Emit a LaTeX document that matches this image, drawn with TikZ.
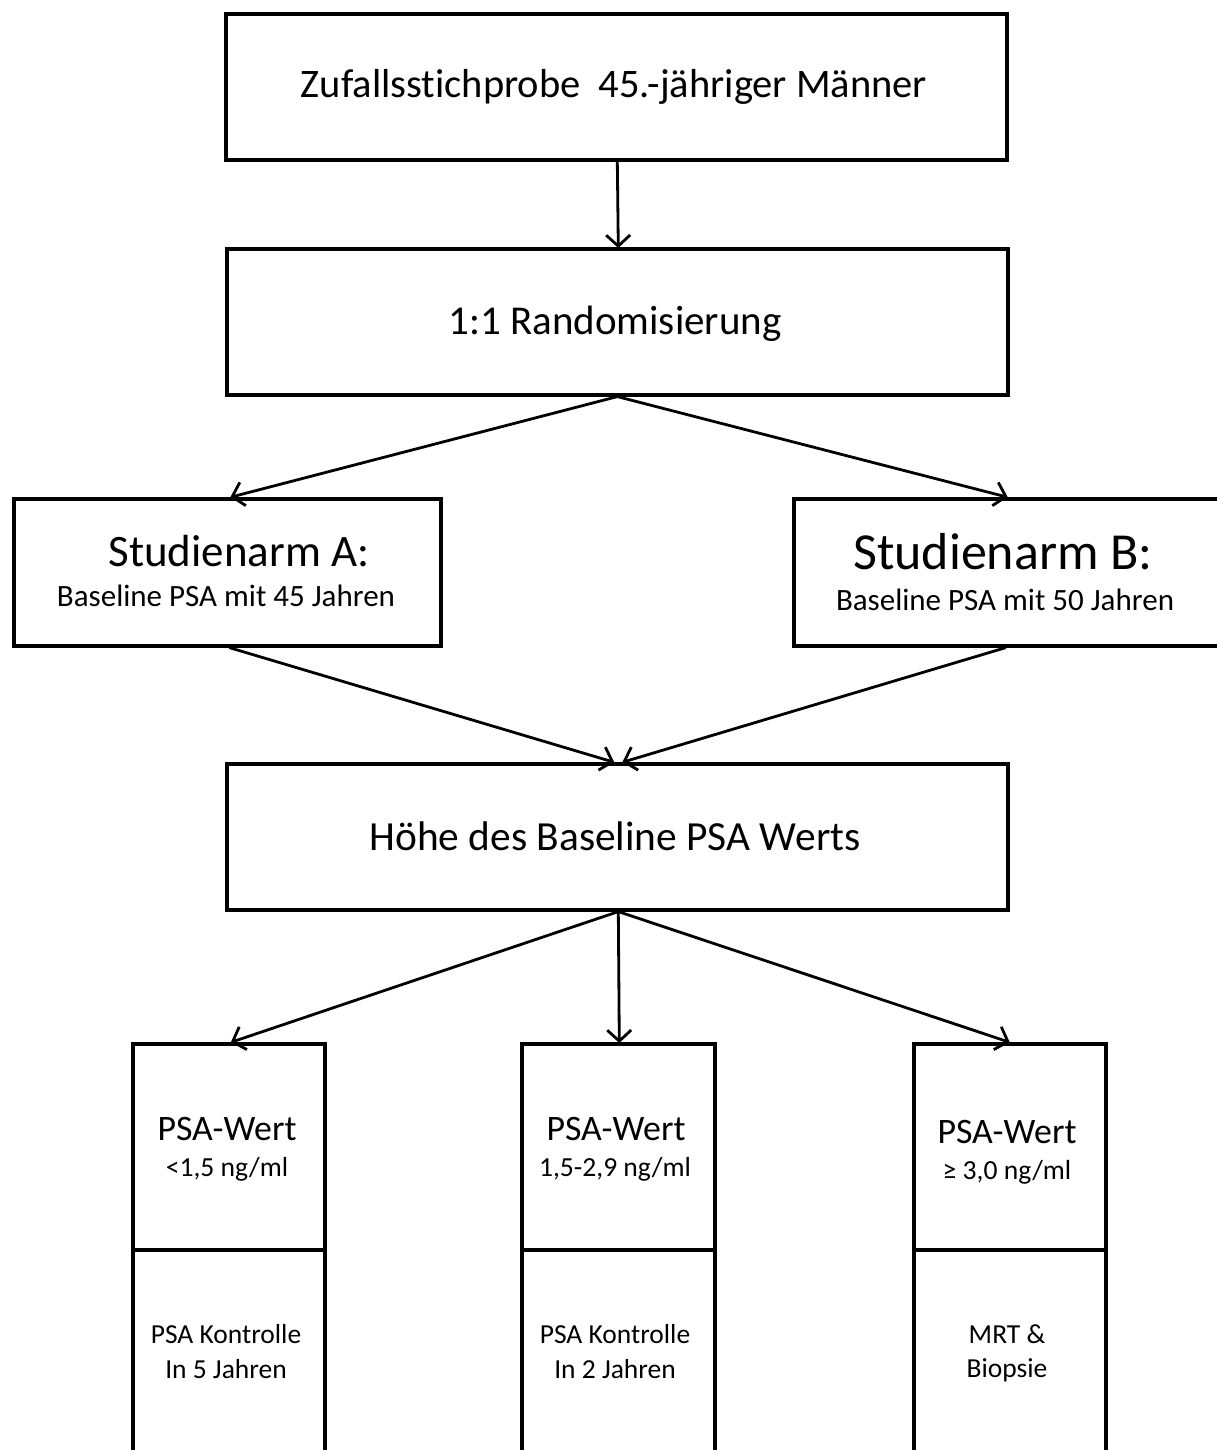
\documentclass[tikz,border=0pt]{standalone}
\usepackage{fontspec}
\setmainfont{Carlito}[Ligatures={NoCommon}]
\usetikzlibrary{arrows.meta}
\newcommand{\fs}[1]{\fontsize{#1}{#1}\selectfont}
\begin{document}
\begin{tikzpicture}[x=1pt,y=-1pt,
  box/.style={draw,line width=3.6pt,rectangle,inner sep=0pt,anchor=north west},
  txt/.style={anchor=base,inner sep=0pt},
  conn/.style={line width=2.8pt,-{Straight Barb[length=11pt,width=24pt,line width=2.8pt]},shorten >=-1pt}]
\useasboundingbox (0,0) rectangle (1217,1450);
\clip (0,0) rectangle (1217,1450);
% boxes
\node[box,minimum width=781pt,minimum height=146pt] (z) at (224,12) {};
\node[box,minimum width=781pt,minimum height=146pt] (r) at (225,247) {};
\node[box,minimum width=427pt,minimum height=147pt] (a) at (12,497) {};
\node[box,minimum width=430pt,minimum height=147pt] (b) at (792,497) {};
\node[box,minimum width=781pt,minimum height=146pt] (h) at (225,762) {};
\node[box,minimum width=192pt,minimum height=206pt] (l1) at (131,1042) {};
\node[box,minimum width=192pt,minimum height=215pt] (l2) at (131,1248) {};
\node[box,minimum width=193pt,minimum height=206pt] (m1) at (520,1042) {};
\node[box,minimum width=193pt,minimum height=215pt] (m2) at (520,1248) {};
\node[box,minimum width=192pt,minimum height=206pt] (q1) at (912,1042) {};
\node[box,minimum width=192pt,minimum height=215pt] (q2) at (912,1248) {};
% texts
\node[txt] (tz) at (614,98) {\fs{40.5}Zufallsstichprobe\ \ 45.-jähriger Männer};
\node[txt] (tr) at (615,334) {\fs{41}1:1 Randomisierung};
\node[txt] (ta1) at (239,566) {\fs{45}Studienarm A:};
\node[txt] (ta2) at (226,606) {\fs{31}Baseline PSA mit 45 Jahren};
\node[txt] (tb1) at (1003,569) {\fs{52}Studienarm B:};
\node[txt] (tb2) at (1005,610) {\fs{31}Baseline PSA mit 50 Jahren};
\node[txt] (th) at (615,850) {\fs{41.4}Höhe des Baseline PSA Werts};
\node[txt] (tl1) at (227,1140) {\fs{35.8}PSA-Wert};
\node[txt] (tl2) at (227,1176) {\fs{27.6}<1,5 ng/ml};
\node[txt] (tl3) at (226,1343) {\fs{27.5}PSA Kontrolle};
\node[txt] (tl4) at (226,1378) {\fs{27.5}In 5 Jahren};
\node[txt] (tm1) at (616,1140) {\fs{35.8}PSA-Wert};
\node[txt] (tm2) at (615,1176) {\fs{27.6}1,5-2,9 ng/ml};
\node[txt] (tm3) at (615,1343) {\fs{27.5}PSA Kontrolle};
\node[txt] (tm4) at (615,1378) {\fs{27.5}In 2 Jahren};
\node[txt] (tq1) at (1007,1143) {\fs{35.8}PSA-Wert};
\node[txt] (tq2) at (1007,1179) {\fs{27.6}≥ 3,0 ng/ml};
\node[txt] (tq3) at (1007,1343) {\fs{27.5}MRT \&};
\node[txt] (tq4) at (1007,1377) {\fs{27.5}Biopsie};
% connectors
\draw[conn] ([xshift=1pt]z.south) -- ([xshift=1pt]r.north);
\draw[conn] (r.south) -- ([xshift=4pt]a.north);
\draw[conn] (r.south) -- ([xshift=-2pt]b.north);
\draw[conn] ([xshift=2pt]a.south) -- ([xshift=-4pt]h.north);
\draw[conn] ([xshift=-3pt]b.south) -- ([xshift=6pt]h.north);
\draw[conn] ([xshift=1pt]h.south) -- ([xshift=3pt]l1.north);
\draw[conn] ([xshift=1pt]h.south) -- ([xshift=1pt]m1.north);
\draw[conn] ([xshift=1pt]h.south) -- ([xshift=-1pt]q1.north);
\end{tikzpicture}
\end{document}
